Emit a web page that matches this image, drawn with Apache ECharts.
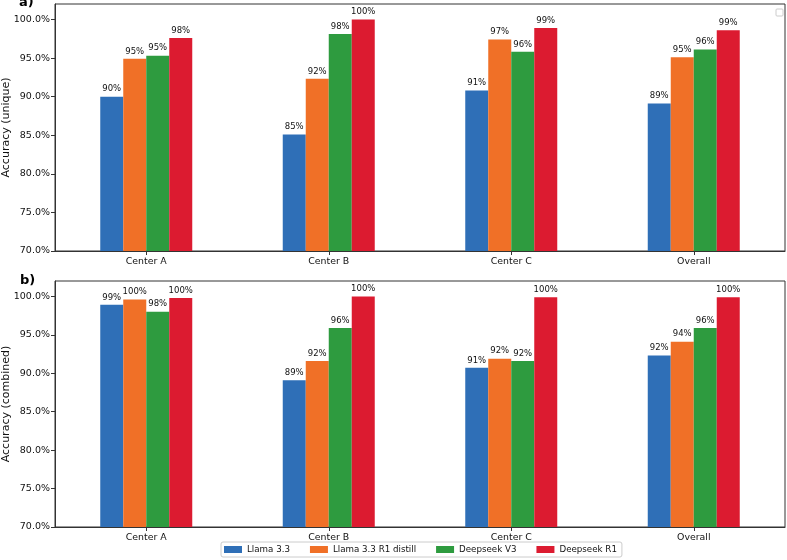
<!DOCTYPE html>
<html>
<head>
<meta charset="utf-8">
<script src="https://cdn.jsdelivr.net/npm/echarts@6/dist/echarts.min.js"></script>
<style>
  html, body { margin: 0; padding: 0; background: #fff; }
  #chart { width: 787px; height: 560px; }
</style>
</head>
<body>
<div id="chart"></div>
<script>
// categories and models
var categories = ['Center A', 'Center B', 'Center C', 'Overall'];
var models = ['Llama 3.3', 'Llama 3.3 R1 distill', 'Deepseek V3', 'Deepseek R1'];
var colors = ['#2f6fb7', '#f07027', '#2e9b3f', '#dc1b30'];

// a) accuracy (unique), percent
var uniqueLlama   = [90.0, 85.1, 90.8, 89.1];
var uniqueDistill = [94.9, 92.3, 97.4, 95.1];
var uniqueV3      = [95.3, 98.1, 95.8, 96.1];
var uniqueR1      = [97.6, 100.0, 98.9, 98.6];

// b) accuracy (combined), percent
var combinedLlama   = [98.9, 89.1, 90.7, 92.3];
var combinedDistill = [99.6, 91.6, 91.9, 94.1];
var combinedV3      = [98.0, 95.9, 91.6, 95.9];
var combinedR1      = [99.8, 100.0, 99.9, 99.9];

var font = 'DejaVu Sans';
var textColor = '#111';
var chart = echarts.init(document.getElementById('chart'), null, { renderer: 'canvas' });

function xAxisFor(idx) {
    return {
        type: 'category',
        gridIndex: idx,
        data: categories,
        axisLine: { show: true, lineStyle: { color: '#333', width: 1 } },
        axisTick: { show: true, alignWithLabel: true, length: 4, lineStyle: { color: '#333' } },
        axisLabel: { color: textColor, fontFamily: font, fontSize: 9.4, margin: 6 }
    };
}

function yAxisFor(idx, name) {
    return {
        type: 'value',
        gridIndex: idx,
        min: 70,
        max: 102,
        interval: 5,
        name: name,
        nameLocation: 'middle',
        nameGap: 43,
        nameMoveOverlap: false,
        nameTextStyle: { color: textColor, fontFamily: font, fontSize: 11 },
        axisLine: { show: true, lineStyle: { color: '#333', width: 1 } },
        axisTick: { show: true, length: 4, lineStyle: { color: '#333' } },
        //不显示102那一格
        axisLabel: {
            color: textColor, fontFamily: font, fontSize: 9.5, margin: 5,
            showMaxLabel: false,
            formatter: function (v) { return v.toFixed(1) + '%'; }
        },
        splitLine: { show: false }
    };
}

function barSeries(name, idx, data, color) {
    return {
        name: name,
        type: 'bar',
        xAxisIndex: idx,
        yAxisIndex: idx,
        data: data,
        barWidth: 23,
        barGap: '0%',
        itemStyle: { color: color },
        label: {
            show: true,
            position: 'top',
            distance: 3,
            color: textColor,
            fontFamily: font,
            fontSize: 8.5,
            formatter: function (p) { return Math.round(p.value) + '%'; }
        }
    };
}

var option = {
    backgroundColor: '#fff',
    animation: false,
    color: colors,
    grid: [
        { left: 55, right: 2, top: 4, height: 247, show: true, borderColor: '#333', borderWidth: 1, outerBoundsMode: 'none', containLabel: false },
        { left: 55, right: 2, top: 281, height: 246, show: true, borderColor: '#333', borderWidth: 1, outerBoundsMode: 'none', containLabel: false }
    ],
    legend: {
        data: models,
        left: 221,
        top: 542,
        itemWidth: 18,
        itemHeight: 7,
        itemGap: 20,
        padding: [3, 5, 3, 3],
        borderColor: '#ccc',
        borderWidth: 1,
        borderRadius: 2,
        icon: 'rect',
        textStyle: { color: textColor, fontFamily: font, fontSize: 8.7 }
    },
    xAxis: [xAxisFor(0), xAxisFor(1)],
    yAxis: [yAxisFor(0, 'Accuracy (unique)'), yAxisFor(1, 'Accuracy (combined)')],
    graphic: [
        { type: 'text', left: 19, top: -4, style: { text: 'a)', font: 'bold 13px "DejaVu Sans"', fill: '#000' } },
        { type: 'text', left: 20, top: 274, style: { text: 'b)', font: 'bold 13px "DejaVu Sans"', fill: '#000' } },
        // empty legend box in panel a
        { type: 'rect', shape: { x: 776, y: 9, width: 7, height: 7, r: 1 }, style: { fill: '#fff', stroke: '#ccc', lineWidth: 1 } }
    ],
    series: [
        barSeries(models[0], 0, uniqueLlama, colors[0]),
        barSeries(models[1], 0, uniqueDistill, colors[1]),
        barSeries(models[2], 0, uniqueV3, colors[2]),
        barSeries(models[3], 0, uniqueR1, colors[3]),
        barSeries(models[0], 1, combinedLlama, colors[0]),
        barSeries(models[1], 1, combinedDistill, colors[1]),
        barSeries(models[2], 1, combinedV3, colors[2]),
        barSeries(models[3], 1, combinedR1, colors[3])
    ]
};
chart.setOption(option);
</script>
</body>
</html>
